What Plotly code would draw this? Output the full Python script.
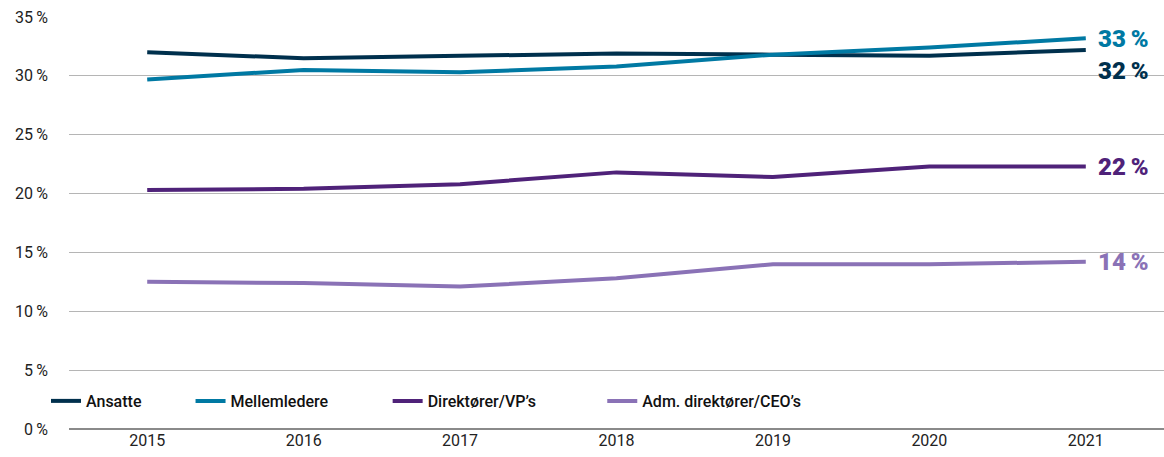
import plotly.graph_objects as go

years = ["2015", "2016", "2017", "2018", "2019", "2020", "2021"]
ansatte = [32.0, 31.5, 31.7, 31.9, 31.8, 31.7, 32.2]
mellemledere = [29.7, 30.5, 30.3, 30.8, 31.8, 32.4, 33.2]
direktorer = [20.3, 20.4, 20.8, 21.8, 21.4, 22.3, 22.3]
ceo = [12.5, 12.4, 12.1, 12.8, 14.0, 14.0, 14.2]

series_names = ["Ansatte", "Mellemledere", "Direktører/VP’s", "Adm. direktører/CEO’s"]
series_values = [ansatte, mellemledere, direktorer, ceo]
colors = ["#00304d", "#0079a3", "#4f2279", "#8a72b6"]
label_shift = [-21, -1, 0, 0]  # vertical nudge of end labels (px)
legend_ids = ["legend", "legend2", "legend3", "legend4"]
legend_x = [-0.021, 0.111, 0.291, 0.487]  # paper-x of each legend entry

y_ticks = [0, 5, 10, 15, 20, 25, 30, 35]
y_tick_text = [f"{v}\u2009%" for v in y_ticks]

font_family = "Roboto, 'Noto Sans', sans-serif"

fig = go.Figure()
for name, vals, col, lg in zip(series_names, series_values, colors, legend_ids):
    fig.add_trace(go.Scatter(
        x=years, y=vals, name=name, mode="lines",
        line=dict(color=col, width=4), legend=lg,
    ))

last = len(years) - 1
for name, vals, col, dy in zip(series_names, series_values, colors, label_shift):
    fig.add_annotation(
        x=last, y=vals[-1], text=f"{round(vals[-1])}\u2009%",
        showarrow=False, xanchor="left", xshift=11, yshift=dy,
        font=dict(family=font_family, size=24, color=col, weight=900),
        borderpad=0,
    )

legend_style = dict(
    orientation="h", y=0.068, xanchor="left", yanchor="middle",
    font=dict(family=font_family, size=16, color="#111111", weight=500),
    bgcolor="rgba(0,0,0,0)", itemwidth=30,
)
legend_layout = {lg: dict(x=lx, **legend_style) for lg, lx in zip(legend_ids, legend_x)}

fig.update_layout(
    width=1164, height=457,
    margin=dict(l=69, r=0, t=17, b=28),
    paper_bgcolor="white", plot_bgcolor="white",
    font=dict(family=font_family, size=15, color="#222222"),
    showlegend=True,
    xaxis=dict(
        type="category", range=[-0.5, 6.5],
        showgrid=False, zeroline=False, showline=False,
        ticks="", tickfont=dict(size=16, color="#222222"),
    ),
    yaxis=dict(
        range=[0, 35], tickvals=y_ticks, ticktext=y_tick_text,
        showgrid=True, gridcolor="#b5b5b5", gridwidth=1,
        zeroline=True, zerolinecolor="#8a8a8a", zerolinewidth=2,
        showline=False, ticks="", ticklabelstandoff=20,
        tickfont=dict(size=16, color="#222222"),
    ),
    **legend_layout,
)

fig.write_html("out.html")
